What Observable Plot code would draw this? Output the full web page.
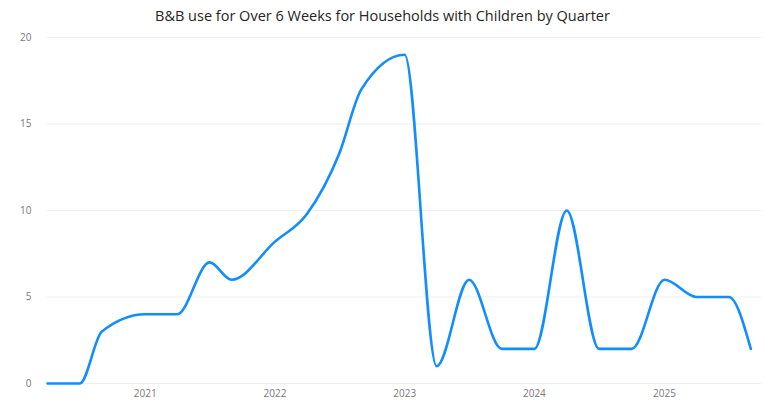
<!DOCTYPE html>
<html>
<head>
<meta charset="utf-8">
<script src="https://cdn.jsdelivr.net/npm/d3@7"></script>
<script src="https://cdn.jsdelivr.net/npm/@observablehq/plot@0.6"></script>
<style>
  body { margin: 0; background: #ffffff; }
  #title {
    height: 30px;
    line-height: 32px;
    text-align: center;
    font-family: "Open Sans", "Noto Sans", sans-serif;
    font-size: 14.5px;
    color: #252423;
    white-space: nowrap;
  }
  #chart svg { display: block; }
</style>
</head>
<body>
<div id="title">B&amp;B use for Over 6 Weeks for Households with Children by Quarter</div>
<div id="chart"></div>
<script>
// Reporting dates and number of households with children in B&B for over 6 weeks
const periods = [
  "2020-04-01", "2020-07-01", "2020-09-01", "2021-01-01", "2021-04-01",
  "2021-07-01", "2021-09-01", "2022-01-01", "2022-04-01", "2022-07-01",
  "2022-09-01", "2023-01-01", "2023-04-01", "2023-07-01", "2023-10-01",
  "2024-01-01", "2024-04-01", "2024-07-01", "2024-10-01", "2025-01-01",
  "2025-04-01", "2025-07-01", "2025-09-01"
];
const households = [
  0, 0, 3, 4, 4,
  7, 6, 8.2, 9.8, 13.3,
  17, 19, 1, 6, 2,
  2, 10, 2, 2, 6,
  5, 5, 2
];

// Axis ticks
const yTicks = [0, 5, 10, 15, 20];
const yearTicks = ["2021-01-01", "2022-01-01", "2023-01-01", "2024-01-01", "2025-01-01"];
const xDomain = ["2020-04-01", "2025-10-01"];

const data = periods.map((d, i) => ({date: new Date(d), value: households[i]}));

const chart = Plot.plot({
  width: 765,
  height: 371,
  marginTop: 7,
  marginBottom: 18,
  marginLeft: 47,
  marginRight: 4,
  style: {
    fontFamily: "'Open Sans', 'Noto Sans', sans-serif",
    fontSize: "10px",
    color: "#777777",
    background: "#ffffff"
  },
  x: {type: "utc", domain: xDomain.map(d => new Date(d))},
  y: {domain: [0, 20]},
  marks: [
    Plot.gridY(yTicks, {stroke: "#efefef", strokeOpacity: 1, strokeWidth: 1}),
    Plot.axisY(yTicks, {tickSize: 0, tickPadding: 16, label: null, fill: "#777777"}),
    Plot.axisX(yearTicks.map(d => new Date(d)), {
      tickSize: 0, tickPadding: 6, tickFormat: d3.utcFormat("%Y"), label: null, fill: "#777777"
    }),
    Plot.line(data, {
      x: "date", y: "value",
      curve: "monotone-x",
      stroke: "#118DFF",
      strokeWidth: 2.6
    })
  ]
});

document.getElementById("chart").appendChild(chart);
</script>
</body>
</html>
